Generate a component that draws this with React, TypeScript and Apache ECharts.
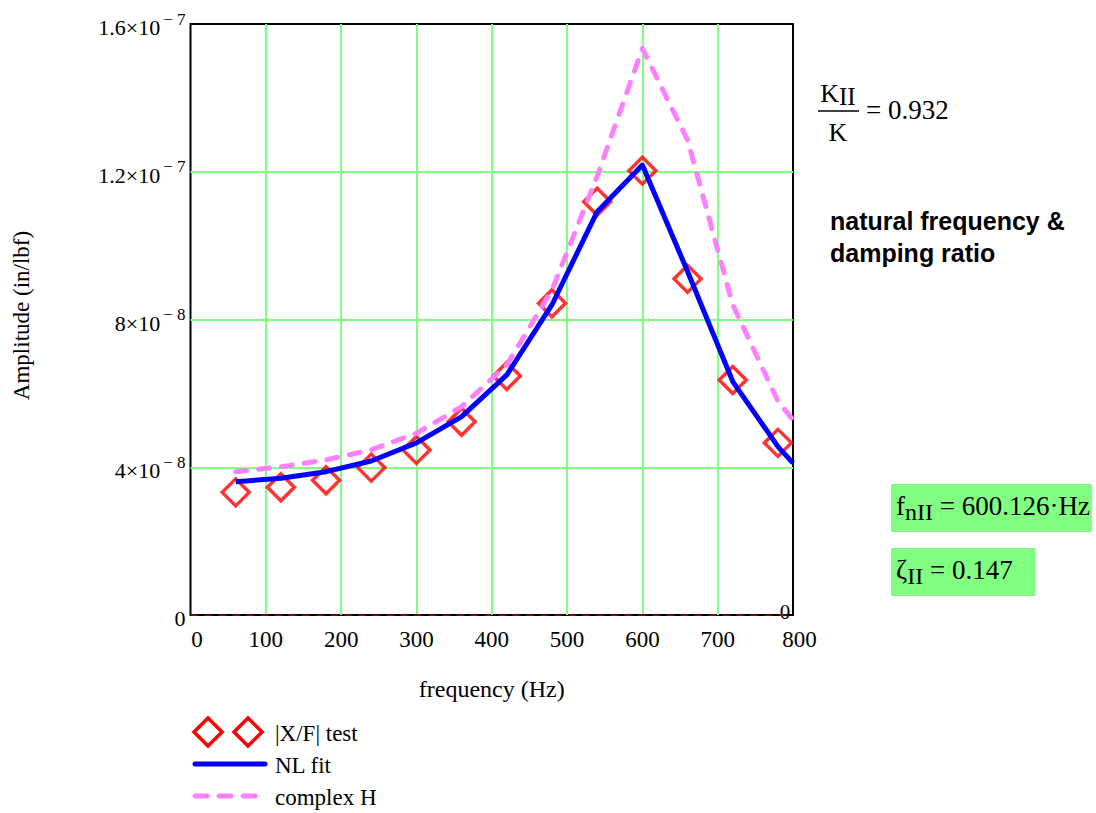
import React, { useEffect, useRef } from 'react';
import * as echarts from 'echarts';

// measured test points: frequency (Hz) and |X/F| amplitude (×1e-8 in/lbf)
const testFreq = [60, 120, 180, 240, 300, 360, 420, 480, 540, 600, 660, 720, 780];
const testAmp = [3.32, 3.46, 3.65, 3.99, 4.47, 5.23, 6.47, 8.44, 11.19, 12.03, 9.1, 6.36, 4.66];

// fitted curves (×1e-8 in/lbf)
const fitFreq = [60, 120, 180, 240, 300, 360, 420, 480, 540, 600, 660, 720, 780, 800];
const nlFit = [3.61, 3.7, 3.88, 4.17, 4.66, 5.37, 6.5, 8.4, 10.92, 12.18, 9.3, 6.32, 4.56, 4.11];
const complexH = [3.88, 4.01, 4.2, 4.47, 4.92, 5.64, 6.77, 8.8, 11.88, 15.34, 12.86, 8.4, 5.79, 5.28];
const UNIT = 1e-8;

const zeroLine = [0, 800];

// axis ticks
const xMin = 0;
const xMax = 800;
const xStep = 100;
const yMin = 0;
const yMax = 1.6e-7;
const yStep = 4e-8;
const yTickMant = ['0', '4×10', '8×10', '1.2×10', '1.6×10'];
const yTickExp = ['', '− 8', '− 8', '− 7', '− 7'];

const SERIF = '"Liberation Serif", "Times New Roman", serif';
const SANS = '"Liberation Sans", Arial, sans-serif';

export default function App() {
  const ref = useRef<HTMLDivElement>(null);

  useEffect(() => {
    if (!ref.current) return;
    const chart = echarts.init(ref.current, undefined, { renderer: 'svg' });

    const testData = testFreq.map((f, i) => [f, testAmp[i] * UNIT]);
    const nlData = fitFreq.map((f, i) => [f, nlFit[i] * UNIT]);
    const chData = fitFreq.map((f, i) => [f, complexH[i] * UNIT]);

    const option: any = {
      animation: false,
      backgroundColor: '#fff',
      grid: {
        left: 190.5,
        right: 303,
        top: 24,
        bottom: 198,
        show: true,
        borderColor: '#000',
        borderWidth: 2,
        backgroundColor: 'transparent',
      },
      xAxis: {
        type: 'value',
        min: xMin,
        max: xMax,
        interval: xStep,
        name: 'frequency (Hz)',
        nameLocation: 'middle',
        nameGap: 62,
        nameTextStyle: { fontFamily: SERIF, fontSize: 24, color: '#000' },
        axisLine: { show: false },
        axisTick: { show: false },
        axisLabel: {
          margin: 13,
          formatter: (v: number) => (v === xMin || v === xMax ? `{e|${v}}` : `{n|${v}}`),
          rich: {
            n: { fontFamily: SERIF, fontSize: 23, color: '#000' },
            e: { fontFamily: SERIF, fontSize: 23, color: '#000', padding: [0, 0, 0, 13] },
          },
        },
        splitLine: {
          show: true,
          showMinLine: false,
          showMaxLine: false,
          lineStyle: { color: '#80ff80', width: 2 },
        },
      },
      yAxis: {
        type: 'value',
        min: yMin,
        max: yMax,
        interval: yStep,
        name: 'Amplitude (in/lbf)',
        nameLocation: 'middle',
        nameRotate: 90,
        nameGap: 158,
        nameTextStyle: { fontFamily: SERIF, fontSize: 23, color: '#000', padding: [0, 0, 0, 8] },
        axisLine: { show: false },
        axisTick: { show: false },
        axisLabel: {
          margin: 5,
          formatter: (v: number) => {
            const i = Math.round(v / yStep);
            if (i === 0) return '{m|0}';
            return `{m|${yTickMant[i]}}{s|${yTickExp[i]}}`;
          },
          rich: {
            m: { fontFamily: SERIF, fontSize: 22, color: '#000', padding: [7, 0, 0, 0] },
            s: { fontFamily: SERIF, fontSize: 17, color: '#000', padding: [0, 0, 10, 3] },
          },
        },
        splitLine: {
          show: true,
          showMinLine: false,
          showMaxLine: false,
          lineStyle: { color: '#80ff80', width: 2 },
        },
      },
      series: [
        {
          name: 'zero',
          type: 'line',
          data: zeroLine.map((x) => [x, 0]),
          symbol: 'none',
          silent: true,
          lineStyle: { color: '#800000', width: 2, type: [7, 7] },
        },
        {
          name: '|X/F| test',
          type: 'scatter',
          data: testData,
          symbol: 'diamond',
          symbolSize: 27,
          itemStyle: { color: 'transparent', borderColor: '#ff0000', borderWidth: 3.5 },
        },
        {
          name: 'NL fit',
          type: 'line',
          data: nlData,
          symbol: 'none',
          lineStyle: { color: '#0000ff', width: 5, join: 'round' },
        },
        {
          name: 'complex H',
          type: 'line',
          data: chData,
          symbol: 'none',
          lineStyle: { color: '#ff80ff', width: 5, type: [11, 12], cap: 'round', join: 'round' },
        },
      ],
      graphic: [
        // right-side zero marker
        {
          type: 'text',
          x: 785,
          y: 612,
          style: { text: '0', font: `21px ${SERIF}`, fill: '#000', align: 'center', verticalAlign: 'middle' },
        },
        // K_II / K = 0.932
        {
          type: 'text',
          x: 838,
          y: 93,
          style: {
            text: '{k|K}{s|II}',
            align: 'center',
            verticalAlign: 'middle',
            rich: {
              k: { fontFamily: SERIF, fontSize: 26, fill: '#000' },
              s: { fontFamily: SERIF, fontSize: 25, fill: '#000', padding: [6, 0, 0, 0] },
            },
          },
        },
        {
          type: 'line',
          shape: { x1: 818, y1: 111, x2: 859, y2: 111 },
          style: { stroke: '#000', lineWidth: 1.5 },
        },
        {
          type: 'text',
          x: 838,
          y: 132,
          style: { text: 'K', font: `26px ${SERIF}`, fill: '#000', align: 'center', verticalAlign: 'middle' },
        },
        {
          type: 'text',
          x: 866,
          y: 110,
          style: { text: '= 0.932', font: `27px ${SERIF}`, fill: '#000', align: 'left', verticalAlign: 'middle' },
        },
        // note
        {
          type: 'text',
          x: 830,
          y: 205,
          style: {
            text: 'natural frequency &\ndamping ratio',
            font: `bold 25px ${SANS}`,
            lineHeight: 32,
            fill: '#000',
            align: 'left',
            verticalAlign: 'top',
          },
        },
        // green result boxes
        { type: 'rect', shape: { x: 891, y: 484, width: 201, height: 48 }, style: { fill: '#80ff80' } },
        { type: 'rect', shape: { x: 891, y: 548, width: 144, height: 48 }, style: { fill: '#80ff80' } },
        {
          type: 'text',
          x: 896,
          y: 506,
          style: {
            text: '{f|f}{s|nII}{f| = 600.126·Hz}',
            align: 'left',
            verticalAlign: 'middle',
            rich: {
              f: { fontFamily: SERIF, fontSize: 27, fill: '#000' },
              s: { fontFamily: SERIF, fontSize: 24, fill: '#000', padding: [12, 0, 0, 0] },
            },
          },
        },
        {
          type: 'text',
          x: 896,
          y: 570,
          style: {
            text: '{f|ζ}{s|II}{f| = 0.147}',
            align: 'left',
            verticalAlign: 'middle',
            rich: {
              f: { fontFamily: SERIF, fontSize: 27, fill: '#000' },
              s: { fontFamily: SERIF, fontSize: 24, fill: '#000', padding: [12, 0, 0, 0] },
            },
          },
        },
        // legend
        {
          type: 'polygon',
          shape: { points: [[208, 718], [222, 732], [208, 746], [194, 732]] },
          style: { fill: 'none', stroke: '#ff0000', lineWidth: 3.5 },
        },
        {
          type: 'polygon',
          shape: { points: [[248, 718], [262, 732], [248, 746], [234, 732]] },
          style: { fill: 'none', stroke: '#ff0000', lineWidth: 3.5 },
        },
        {
          type: 'text',
          x: 275,
          y: 733,
          style: { text: '|X/F| test', font: `23px ${SERIF}`, fill: '#000', align: 'left', verticalAlign: 'middle' },
        },
        {
          type: 'line',
          shape: { x1: 195, y1: 764, x2: 265, y2: 764 },
          style: { stroke: '#0000ff', lineWidth: 5, lineCap: 'round' },
        },
        {
          type: 'text',
          x: 275,
          y: 765,
          style: { text: 'NL fit', font: `23px ${SERIF}`, fill: '#000', align: 'left', verticalAlign: 'middle' },
        },
        {
          type: 'line',
          shape: { x1: 195, y1: 796, x2: 265, y2: 796 },
          style: { stroke: '#ff80ff', lineWidth: 5, lineCap: 'round', lineDash: [12, 12] },
        },
        {
          type: 'text',
          x: 275,
          y: 797,
          style: { text: 'complex H', font: `23px ${SERIF}`, fill: '#000', align: 'left', verticalAlign: 'middle' },
        },
      ],
    };

    chart.setOption(option);
    return () => chart.dispose();
  }, []);

  return (
    <div
      ref={ref}
      style={{ position: 'fixed', left: 0, top: 0, width: 1096, height: 813, background: '#fff' }}
    />
  );
}
